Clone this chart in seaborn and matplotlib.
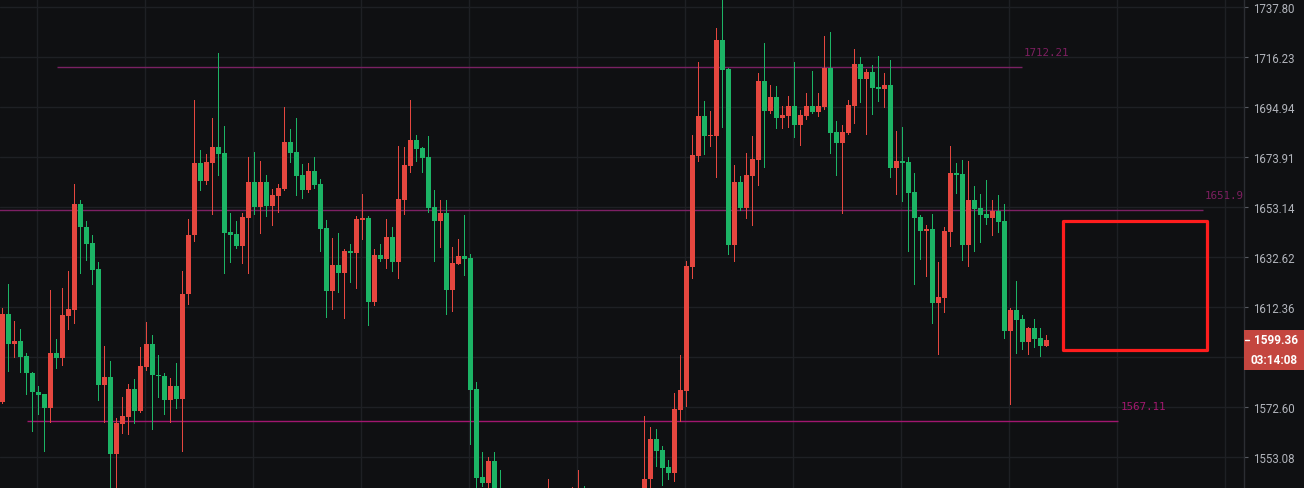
import matplotlib
matplotlib.use("Agg")
import matplotlib.pyplot as plt
import matplotlib.ticker as mticker
from matplotlib.patches import Rectangle
import seaborn as sns
import pandas as pd

# ---------------- data ----------------
opens = [1574.7, 1609.7, 1597.4, 1598.9, 1592.9, 1586.2, 1578.7, 1577.6, 1572.1, 1594.1,
         1592.2, 1609.0, 1611.4, 1654.5, 1645.0, 1638.5, 1627.9, 1581.5, 1584.6, 1554.1,
         1565.8, 1568.9, 1579.8, 1570.9, 1588.6, 1597.7, 1585.4, 1585.0, 1575.2, 1581.0,
         1575.6, 1617.5, 1641.5, 1671.5, 1664.2, 1671.7, 1678.2, 1675.7, 1643.0, 1642.2,
         1637.3, 1648.8, 1663.7, 1653.4, 1663.7, 1653.7, 1657.8, 1660.7, 1680.4, 1676.1,
         1666.6, 1660.3, 1668.2, 1662.8, 1644.6, 1619.0, 1629.5, 1626.3, 1635.2, 1634.5,
         1647.9, 1648.8, 1614.6, 1633.6, 1631.9, 1641.0, 1630.7, 1656.3, 1670.3, 1681.2,
         1677.8, 1674.0, 1653.3, 1647.5, 1650.8, 1619.4, 1629.9, 1633.2, 1632.3, 1579.8,
         1545.5, 1543.2, 1551.7, 1530.0, 1520.0, 1514.0, 1523.0, 1528.0, 1519.0, 1511.0,
         1519.0, 1526.0, 1535.0, 1527.0, 1522.0, 1528.0, 1532.0, 1537.0, 1526.0, 1519.0,
         1524.0, 1520.0, 1514.0, 1521.0, 1528.0, 1526.0, 1531.0, 1535.0, 1544.7, 1560.2,
         1555.9, 1549.3, 1547.0, 1571.6, 1579.0, 1628.7, 1674.5, 1691.3, 1682.6, 1682.9,
         1723.7, 1711.3, 1637.7, 1663.7, 1652.9, 1666.1, 1672.8, 1706.1, 1693.4, 1699.3,
         1690.4, 1691.3, 1695.5, 1687.5, 1691.3, 1695.5, 1693.0, 1695.1, 1711.7, 1684.6,
         1679.9, 1684.1, 1695.5, 1713.4, 1707.0, 1710.0, 1703.6, 1702.7, 1704.4, 1669.5,
         1672.4, 1672.0, 1659.5, 1649.2, 1643.4, 1644.2, 1614.1, 1616.1, 1643.0, 1667.4,
         1667.0, 1637.7, 1656.2, 1652.9, 1650.4, 1648.8, 1651.6, 1647.5, 1602.9, 1611.3,
         1607.7, 1598.5, 1604.1, 1600.1, 1596.9]
highs = [1612.1, 1621.8, 1606.6, 1603.7, 1594.1, 1586.5, 1581.0, 1577.9, 1619.4, 1599.7,
         1620.2, 1627.1, 1662.7, 1656.2, 1647.5, 1641.8, 1630.6, 1596.9, 1590.9, 1568.3,
         1576.4, 1581.8, 1583.8, 1596.5, 1606.2, 1601.3, 1593.2, 1585.9, 1584.2, 1590.2,
         1627.1, 1648.3, 1698.1, 1677.0, 1675.2, 1690.3, 1718.1, 1687.1, 1650.8, 1647.5,
         1650.9, 1674.0, 1676.1, 1672.4, 1666.4, 1660.7, 1662.8, 1695.1, 1685.8, 1690.3,
         1671.1, 1671.5, 1674.0, 1664.9, 1647.9, 1640.5, 1642.6, 1636.0, 1638.1, 1649.6,
         1658.8, 1649.6, 1635.9, 1638.1, 1648.3, 1645.1, 1678.7, 1678.2, 1698.1, 1683.3,
         1678.2, 1682.9, 1660.3, 1656.2, 1656.2, 1636.9, 1640.1, 1650.0, 1634.0, 1582.6,
         1555.2, 1553.2, 1555.2, 1548.2, 1530.0, 1526.0, 1532.0, 1535.0, 1527.0, 1522.0,
         1530.0, 1544.7, 1539.0, 1533.0, 1531.0, 1541.6, 1548.2, 1542.0, 1532.0, 1528.0,
         1530.0, 1527.0, 1525.0, 1532.0, 1536.0, 1534.0, 1538.0, 1569.1, 1564.9, 1564.1,
         1557.5, 1552.0, 1578.3, 1593.3, 1631.1, 1683.3, 1714.2, 1697.6, 1693.4, 1728.9,
         1745.0, 1711.6, 1670.7, 1666.1, 1675.7, 1682.9, 1709.6, 1722.4, 1704.4, 1704.0,
         1695.5, 1699.8, 1714.2, 1693.8, 1701.0, 1710.4, 1701.0, 1725.4, 1727.1, 1689.2,
         1687.5, 1698.1, 1719.8, 1716.2, 1711.3, 1713.0, 1716.8, 1709.6, 1715.1, 1685.0,
         1686.8, 1674.0, 1667.4, 1650.0, 1645.9, 1650.4, 1630.7, 1645.1, 1678.7, 1671.5,
         1672.8, 1672.4, 1662.0, 1658.7, 1664.5, 1656.2, 1658.0, 1654.5, 1612.1, 1623.0,
         1609.3, 1604.5, 1607.7, 1604.1, 1601.3]
lows = [1574.3, 1586.7, 1592.6, 1586.3, 1577.6, 1563.2, 1570.0, 1555.3, 1566.6, 1588.2,
        1589.4, 1603.4, 1605.8, 1626.0, 1631.6, 1621.9, 1575.2, 1566.6, 1538.0, 1536.0,
        1562.3, 1561.9, 1566.2, 1570.6, 1587.1, 1563.9, 1576.4, 1569.9, 1566.7, 1572.4,
        1555.3, 1613.8, 1639.4, 1660.2, 1662.9, 1650.3, 1666.3, 1626.3, 1630.8, 1636.2,
        1630.4, 1626.0, 1650.5, 1642.7, 1649.7, 1645.6, 1651.3, 1660.3, 1672.0, 1658.0,
        1657.0, 1659.6, 1661.2, 1635.2, 1608.6, 1611.8, 1618.3, 1608.2, 1622.7, 1620.1,
        1640.1, 1605.0, 1613.3, 1631.1, 1628.4, 1626.8, 1624.2, 1650.5, 1667.8, 1672.4,
        1667.8, 1651.2, 1631.0, 1636.9, 1609.7, 1610.9, 1629.7, 1625.5, 1558.3, 1530.0,
        1542.0, 1536.0, 1522.0, 1512.0, 1510.0, 1508.0, 1518.0, 1515.0, 1506.0, 1504.0,
        1514.0, 1521.0, 1524.0, 1518.0, 1515.0, 1523.0, 1526.0, 1522.0, 1515.0, 1512.0,
        1516.0, 1510.0, 1508.0, 1517.0, 1522.0, 1520.0, 1527.0, 1530.0, 1538.0, 1549.7,
        1542.4, 1544.7, 1543.9, 1567.3, 1573.1, 1624.2, 1672.4, 1675.3, 1678.7, 1665.7,
        1686.7, 1634.0, 1631.1, 1652.0, 1648.8, 1645.9, 1662.4, 1669.9, 1692.5, 1686.2,
        1686.2, 1686.7, 1682.5, 1679.1, 1690.0, 1692.5, 1691.3, 1694.2, 1675.7, 1666.6,
        1650.8, 1683.7, 1688.3, 1697.2, 1683.7, 1692.1, 1697.8, 1695.1, 1665.7, 1658.4,
        1655.8, 1635.2, 1621.8, 1631.9, 1625.0, 1606.1, 1593.8, 1610.5, 1637.3, 1659.1,
        1631.5, 1629.0, 1635.2, 1638.9, 1646.3, 1641.8, 1643.0, 1600.1, 1573.9, 1594.1,
        1595.7, 1593.8, 1596.2, 1593.0, 1596.7]
closes = [1609.7, 1597.4, 1598.9, 1592.6, 1585.9, 1578.4, 1577.2, 1572.1, 1594.1, 1592.2,
          1609.3, 1611.7, 1654.5, 1644.8, 1638.2, 1627.6, 1581.5, 1584.6, 1554.1, 1566.2,
          1569.2, 1579.8, 1570.9, 1588.9, 1597.7, 1585.1, 1584.7, 1575.2, 1581.0, 1575.6,
          1617.8, 1641.8, 1671.5, 1664.2, 1672.0, 1678.2, 1675.3, 1642.7, 1641.9, 1637.3,
          1649.2, 1663.7, 1653.4, 1663.7, 1653.7, 1658.3, 1661.2, 1680.4, 1675.7, 1666.1,
          1660.3, 1668.2, 1662.4, 1644.2, 1619.0, 1629.5, 1626.3, 1635.2, 1634.5, 1648.3,
          1648.8, 1614.6, 1633.6, 1631.9, 1641.0, 1630.7, 1656.6, 1670.7, 1681.2, 1677.4,
          1673.6, 1652.9, 1647.5, 1650.8, 1619.4, 1630.3, 1633.2, 1631.9, 1579.4, 1545.1,
          1543.2, 1551.7, 1530.0, 1520.0, 1514.0, 1523.0, 1528.0, 1519.0, 1511.0, 1519.0,
          1526.0, 1535.0, 1527.0, 1522.0, 1528.0, 1532.0, 1537.0, 1526.0, 1519.0, 1524.0,
          1520.0, 1514.0, 1521.0, 1528.0, 1526.0, 1531.0, 1535.0, 1544.7, 1560.2, 1555.5,
          1549.0, 1547.0, 1571.9, 1579.4, 1629.1, 1674.9, 1691.3, 1682.6, 1683.3, 1723.7,
          1710.8, 1637.7, 1663.7, 1652.9, 1666.6, 1673.2, 1706.1, 1693.4, 1699.3, 1690.4,
          1691.7, 1695.5, 1687.5, 1691.7, 1695.5, 1693.0, 1695.5, 1711.7, 1684.1, 1679.9,
          1684.6, 1695.9, 1713.4, 1707.0, 1710.0, 1703.2, 1702.7, 1704.4, 1669.5, 1672.4,
          1671.5, 1659.1, 1648.8, 1643.4, 1644.2, 1614.1, 1616.5, 1643.4, 1667.4, 1666.6,
          1637.7, 1656.2, 1652.4, 1650.0, 1648.8, 1651.6, 1647.1, 1602.9, 1611.3, 1607.3,
          1598.5, 1604.1, 1599.7, 1596.9, 1599.36]

tick_values = [1737.80, 1716.23, 1694.94, 1673.91, 1653.14, 1632.62, 1612.36, 1592.35, 1572.60, 1553.08]
tick_labels = ["1737.80", "1716.23", "1694.94", "1673.91", "1653.14", "1632.62", "1612.36", "", "1572.60", "1553.08"]

level_values = [1712.21, 1651.9, 1567.11]
level_labels = ["1712.21", "1651.9", "1567.11"]
level_starts = [9.1, -1.0, 4.1]      # candle index where each level line starts
level_ends = [169.9, 200.1, 186.0]   # candle index where each level line ends

zone_x = [176.8, 200.8]              # highlighted zone, candle index range
zone_y = [1595.3, 1647.5]            # highlighted zone, price range

last_price_label = "1599.36"
countdown_label = "03:14:08"
top_label = "11:12:47"

# ---------------- styling ----------------
BG = "#0f1012"
GRID = "#1e2024"
UP = "#e5473f"
DOWN = "#1cb465"
TXT = "#b2b5bc"

sns.set_theme(style="dark", rc={"axes.facecolor": BG, "figure.facecolor": BG})

W, H = 1304, 489
fig = plt.figure(figsize=(W / 100, H / 100), dpi=100)
axw = 1243.5 / W
ax = fig.add_axes([0, 0, axw, 1])
ax.set_facecolor(BG)

df = pd.DataFrame({"o": opens, "h": highs, "l": lows, "c": closes})
df["i"] = range(len(df))
df["up"] = df["c"] >= df["o"]
df["color"] = df["up"].map({True: UP, False: DOWN})
df["bottom"] = df[["o", "c"]].min(axis=1)
df["height"] = (df["c"] - df["o"]).abs().clip(lower=0.45)

ax.set_yscale("log")
ax.set_ylim(1541.13, 1741.41)
ax.set_xlim(-0.389, -0.389 + 1243.5 / 6)

# wicks and bodies
ax.vlines(df["i"], df["l"], df["h"], colors=df["color"], linewidth=0.6,
          antialiased=False, zorder=3)
ax.bar(df["i"], df["height"], bottom=df["bottom"], width=5 / 6, color=df["color"],
       linewidth=0, antialiased=False, zorder=4)

# grid
ax.xaxis.set_major_locator(mticker.FixedLocator([5.83 + 18 * k for k in range(12)]))
ax.yaxis.set_major_locator(mticker.FixedLocator(tick_values))
ax.yaxis.set_major_formatter(mticker.FixedFormatter(tick_labels))
ax.yaxis.set_minor_locator(mticker.NullLocator())
ax.xaxis.set_minor_locator(mticker.NullLocator())
ax.grid(True, color=GRID, linewidth=1.0, zorder=0)
ax.tick_params(axis="x", which="both", length=0, labelbottom=False)
ax.yaxis.tick_right()
ax.tick_params(axis="y", which="major", direction="out", length=3.0, width=0.8,
               color="#5a5d64", pad=4.2, labelsize=8.3, labelcolor=TXT)
for lbl in ax.get_yticklabels():
    lbl.set_fontfamily("Roboto")
for side in ["top", "left", "bottom"]:
    ax.spines[side].set_visible(False)
ax.spines["right"].set_color("#2c2e33")
ax.spines["right"].set_linewidth(1.0)

# level lines and their labels
level_line_colors = ["#7a2163", "#7d2064", "#a1176f"]
level_text_colors = ["#7d1f60", "#7d1f60", "#a3186f"]
for v, lab, x0, x1, lc, tc in zip(level_values, level_labels, level_starts, level_ends,
                                   level_line_colors, level_text_colors):
    ax.hlines(v, x0, x1, colors=lc, linewidth=1.0, zorder=2)
    ax.annotate(lab, xy=(x1, v), xytext=(2, 15), textcoords="offset pixels",
                ha="left", va="center", fontsize=7.8, family="DejaVu Sans Mono",
                color=tc, annotation_clip=False, clip_on=True, zorder=5)

# highlighted zone
ax.add_patch(Rectangle((zone_x[0], zone_y[0]), zone_x[1] - zone_x[0], zone_y[1] - zone_y[0],
                       fill=False, edgecolor="#ff1d1d", linewidth=2.3, joinstyle="round",
                       zorder=6))

# last price marker on the axis
fig.canvas.draw()
y_px = ax.transData.transform((0, closes[-1]))[1]
bx = 1243.5
box_w = W - bx
fig.patches.append(Rectangle((bx / W, (y_px - 10) / H), box_w / W, 20 / H,
                             transform=fig.transFigure, facecolor="#c4463f",
                             edgecolor="none", zorder=10))
fig.patches.append(Rectangle((bx / W, (y_px - 30) / H), box_w / W, 20 / H,
                             transform=fig.transFigure, facecolor="#c4463f",
                             edgecolor="none", zorder=10))
fig.text((bx + box_w / 2 + 2) / W, y_px / H, last_price_label, ha="center", va="center",
         color="white", fontsize=8.5, fontweight="bold", family="Roboto", zorder=11)
fig.text((bx + box_w / 2) / W, (y_px - 20) / H, countdown_label, ha="center", va="center",
         color="white", fontsize=8.5, fontweight="bold", family="Roboto", zorder=11)
fig.lines.append(plt.Line2D([(bx + 1) / W, (bx + 5) / W], [y_px / H, y_px / H],
                            transform=fig.transFigure, color="white", linewidth=1.0,
                            zorder=12))

# clipped label at the very top (only its lower edge shows, as in the reference)
fig.text(685 / W, 1 + 3 / H, top_label, ha="center", va="center", color="#d8d9dc",
         fontsize=9, fontweight="bold", family="Roboto")

fig.savefig("out.png", dpi=100, facecolor=BG)
